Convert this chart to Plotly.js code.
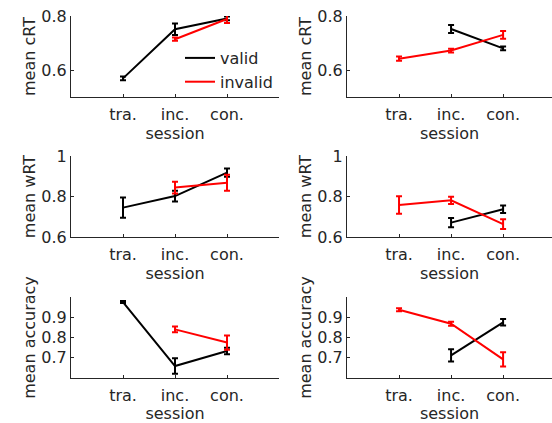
<!DOCTYPE html>
<html>
<head>
<meta charset="utf-8">
<script src="https://cdn.plot.ly/plotly-3.0.1.min.js"></script>
<style>html,body{margin:0;padding:0;background:#fff;}#chart{width:552px;height:423px;}</style>
</head>
<body>
<div id="chart"></div>
<script>
// ---- data ----
var sessions = ['tra.', 'inc.', 'con.'];
var seriesNames = ['valid', 'invalid'];
var yTitles = ['mean cRT', 'mean cRT', 'mean wRT', 'mean wRT', 'mean accuracy', 'mean accuracy'];
var xTitle = 'session';

// panel order: row1 left, row1 right, row2 left, row2 right, row3 left, row3 right
var validMean = [
  [0.569, 0.751, 0.791],
  [null, 0.752, 0.680],
  [0.745, 0.802, 0.918],
  [null, 0.671, 0.737],
  [0.975, 0.659, 0.733],
  [null, 0.712, 0.875]
];
var validErr = [
  [0.007, 0.021, 0.007],
  [0, 0.015, 0.007],
  [0.050, 0.027, 0.020],
  [0, 0.023, 0.019],
  [0.005, 0.038, 0.016],
  [0, 0.030, 0.016]
];
var invalidMean = [
  [null, 0.714, 0.789],
  [0.642, 0.672, 0.730],
  [null, 0.844, 0.868],
  [0.758, 0.781, 0.664],
  [null, 0.840, 0.775],
  [0.937, 0.868, 0.692]
];
var invalidErr = [
  [0, 0.006, 0.015],
  [0.008, 0.007, 0.014],
  [0, 0.029, 0.039],
  [0.043, 0.018, 0.024],
  [0, 0.014, 0.035],
  [0.007, 0.010, 0.035]
];
var yRanges = [[0.5, 0.8], [0.5, 0.8], [0.6, 1.0], [0.6, 1.0], [0.6, 1.0], [0.6, 1.0]];
var yTicks = [[0.6, 0.8], [0.6, 0.8], [0.6, 0.8, 1], [0.6, 0.8, 1], [0.7, 0.8, 0.9], [0.7, 0.8, 0.9]];
var yTickText = [['0.6', '0.8'], ['0.6', '0.8'], ['0.6', '0.8', '1'], ['0.6', '0.8', '1'], ['0.7', '0.8', '0.9'], ['0.7', '0.8', '0.9']];

// ---- layout geometry ----
var W = 552, H = 423;
var colDomains = [[71 / W, 279 / W], [347 / W, 1]];
var colRanges = [[-1, 3], [-1, 2.94]];
var rowPx = [[16, 97], [156, 237], [297, 378]];
var axisColor = '#262626';
var font = {family: 'DejaVu Sans, sans-serif', size: 16, color: axisColor};

var traces = [];
var layout = {
  width: W, height: H,
  margin: {l: 0, r: 0, t: 0, b: 0},
  paper_bgcolor: '#fff', plot_bgcolor: 'rgba(0,0,0,0)',
  font: font,
  showlegend: true,
  legend: {x: 180 / W, y: 1 - 41 / H, xanchor: 'left', yanchor: 'top',
           bgcolor: 'rgba(0,0,0,0)', borderwidth: 0, font: font, itemwidth: 30}
};

var colors = ['#000000', '#ff0000'];
for (var p = 0; p < 6; p++) {
  var row = Math.floor(p / 2), col = p % 2;
  var idx = p === 0 ? '' : String(p + 1);
  var xa = 'x' + idx, ya = 'y' + idx;
  var means = [validMean[p], invalidMean[p]];
  var errs = [validErr[p], invalidErr[p]];
  for (var s = 0; s < 2; s++) {
    traces.push({
      type: 'scatter', mode: 'lines',
      x: sessions, y: means[s],
      name: seriesNames[s],
      showlegend: p === 0,
      line: {color: colors[s], width: 2},
      error_y: {type: 'data', array: errs[s], visible: true, color: colors[s], thickness: 2, width: 3},
      xaxis: xa, yaxis: ya,
      connectgaps: false
    });
  }
  layout['xaxis' + idx] = {
    domain: colDomains[col],
    anchor: ya,
    type: 'category',
    categoryarray: sessions,
    range: colRanges[col],
    showgrid: false, zeroline: false,
    showline: true, linecolor: axisColor, linewidth: 1,
    ticks: 'inside', ticklen: 3, tickcolor: axisColor,
    tickfont: font, ticklabelstandoff: 3,
    title: {text: xTitle, font: font, standoff: 2}
  };
  layout['yaxis' + idx] = {
    domain: [1 - rowPx[row][1] / H, 1 - rowPx[row][0] / H],
    anchor: xa,
    range: yRanges[p],
    tickvals: yTicks[p], ticktext: yTickText[p],
    showgrid: false, zeroline: false,
    showline: true, linecolor: axisColor, linewidth: 1,
    ticks: 'inside', ticklen: 3, tickcolor: axisColor,
    tickfont: font,
    title: {text: yTitles[p], font: font, standoff: 1}
  };
}

Plotly.newPlot('chart', traces, layout, {displayModeBar: false, staticPlot: true});
</script>
</body>
</html>
